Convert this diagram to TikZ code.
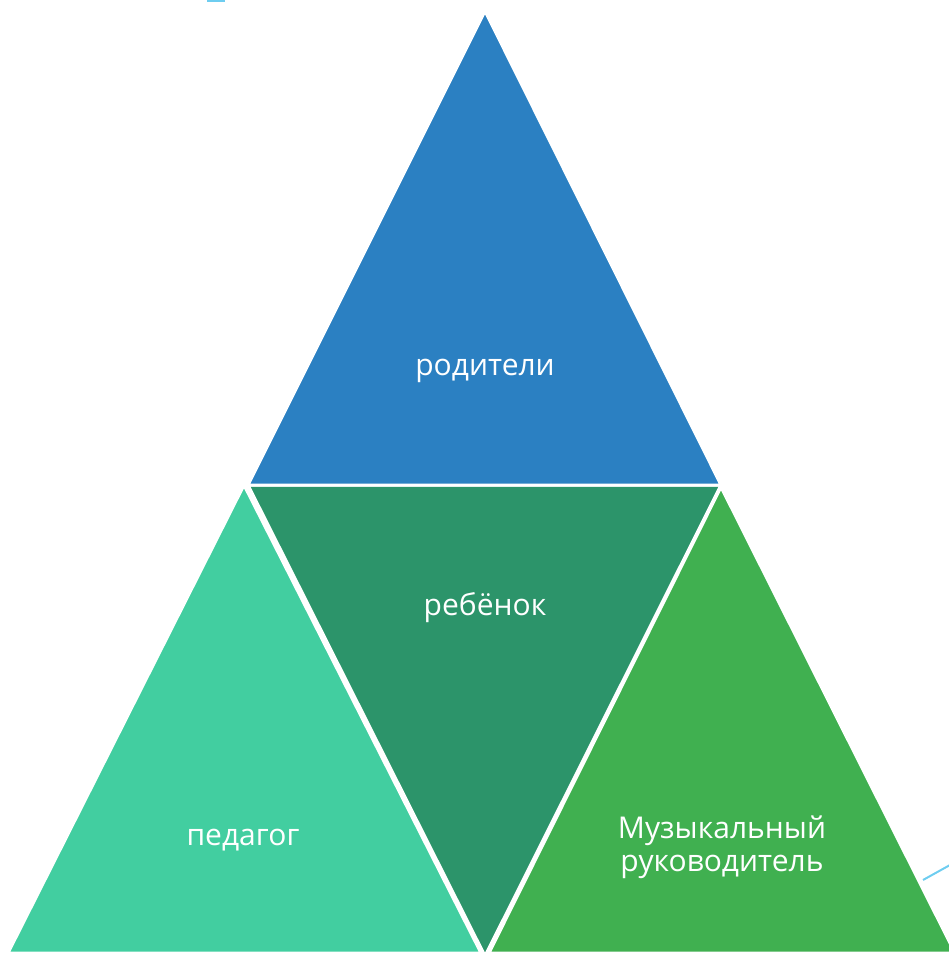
\documentclass[tikz,border=0pt]{standalone}
\usepackage{fontspec}
\setmainfont{Open Sans}
\usepackage{tikz}
\definecolor{parentblue}{RGB}{43,128,194}
\definecolor{childgreen}{RGB}{44,148,106}
\definecolor{teachteal}{RGB}{66,206,160}
\definecolor{musicgreen}{RGB}{64,176,80}
\definecolor{decocyan}{RGB}{110,205,240}

\begin{document}
\begin{tikzpicture}[x=1pt, y=-1pt,
    tri/.style={draw=white, line width=3pt, line join=miter},
    label/.style={text=white, align=center, font=\fontsize{30}{33}\selectfont},
    deco/.style={draw=decocyan, line width=2pt}
]
\useasboundingbox (0,0) rectangle (948,955);

% corners of the four triangles
\coordinate (TopApex) at (485,11);
\coordinate (MidLeft) at (248,485);
\coordinate (MidRight) at (721,485);
\coordinate (MidLow) at (485,956);
\coordinate (LeftLow) at (8,953);
\coordinate (LeftTip) at (244,485);
\coordinate (LeftEnd) at (481,953);
\coordinate (RightTip) at (721,487);
\coordinate (RightLow) at (489,953);
\coordinate (RightEnd) at (955,953);

\fill[teachteal, tri] (LeftTip) -- (LeftEnd) -- (LeftLow) -- cycle;
\fill[musicgreen, tri] (RightTip) -- (RightEnd) -- (RightLow) -- cycle;
\fill[childgreen, tri] (MidLeft) -- (MidRight) -- (MidLow) -- cycle;
\fill[parentblue, tri] (TopApex) -- (MidRight) -- (MidLeft) -- cycle;

\node (parents) [label] at (485,371) {родители};
\node (child) [label] at (485,608) {ребёнок};
\node (teacher) [label] at (243,840) {педагог};
\node (music) [label] at (722,847) {Музыкальный\\руководитель};

% slide decoration pieces
\coordinate (DecoA) at (207,1);
\coordinate (DecoB) at (225,1);
\coordinate (DecoC) at (923,880);
\coordinate (DecoD) at (950,865);
\draw[deco] (DecoA) -- (DecoB);
\draw[deco] (DecoC) -- (DecoD);
\end{tikzpicture}
\end{document}
